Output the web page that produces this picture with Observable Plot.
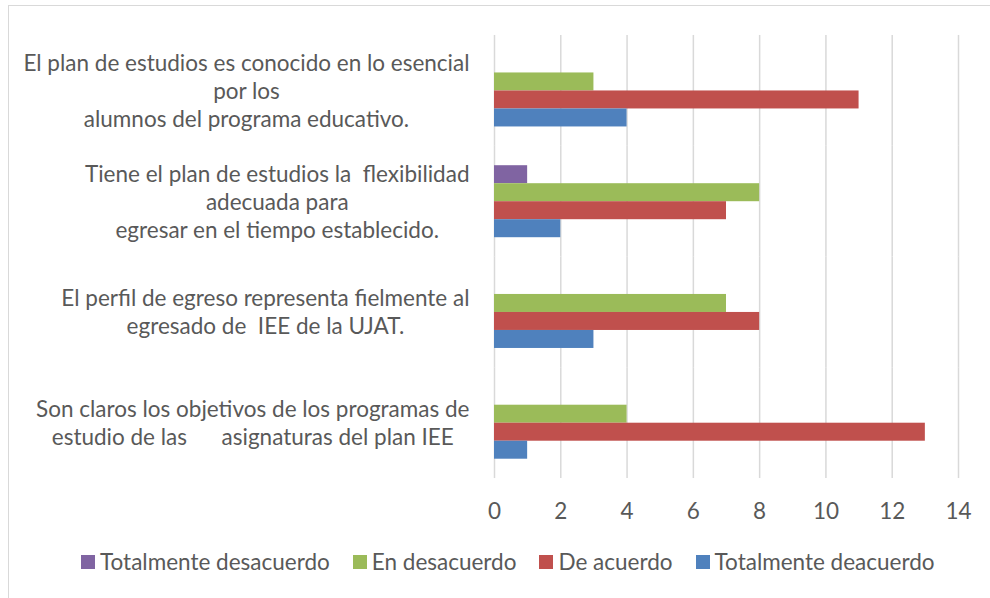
<!DOCTYPE html>
<html>
<head>
<meta charset="utf-8">
<script src="https://cdn.jsdelivr.net/npm/d3@7"></script>
<script src="https://cdn.jsdelivr.net/npm/@observablehq/plot@0.6"></script>
<style>
  html, body { margin: 0; padding: 0; background: #fff; }
  body { width: 990px; height: 598px; overflow: hidden; position: relative; font-family: Lato, "Open Sans", sans-serif; }
  #frame { position: absolute; left: 8px; top: 5px; width: 1100px; height: 700px; border: 1.5px solid #d9d9d9; box-sizing: border-box; }
  #chart { position: absolute; left: 0; top: 0; }
  #legend { position: absolute; left: 81px; top: 548px; display: flex; align-items: center; color: #595959; font-size: 22.5px; white-space: nowrap; }
  #legend .item { display: flex; align-items: center; margin-right: 23px; }
  #legend .sw { width: 14px; height: 14px; display: inline-block; margin-right: 5px; }
  #chart svg g[aria-label="text"] text { white-space: pre; }
</style>
</head>
<body>
<div id="frame"></div>
<div id="chart"></div>
<div id="legend"></div>
<script>
const categories = [
  "El plan de estudios es conocido en lo esencial\npor los\nalumnos del programa educativo.",
  "Tiene el plan de estudios la  flexibilidad\nadecuada para\negresar en el tiempo establecido.",
  "El perfil de egreso representa fielmente al\negresado de  IEE de la UJAT.",
  "Son claros los objetivos de los programas de\nestudio de las      asignaturas del plan IEE"
];
const series = ["Totalmente desacuerdo", "En desacuerdo", "De acuerdo", "Totalmente deacuerdo"];
const colors = ["#8064A2", "#9BBB59", "#C0504D", "#4F81BD"];
const totalmenteDesacuerdo = [0, 1, 0, 0];
const enDesacuerdo = [3, 8, 7, 4];
const deAcuerdo = [11, 7, 8, 13];
const totalmenteDeacuerdo = [4, 2, 3, 1];
const xTicks = [0, 2, 4, 6, 8, 10, 12, 14];

const seriesValues = [totalmenteDesacuerdo, enDesacuerdo, deAcuerdo, totalmenteDeacuerdo];
const rows = [];
categories.forEach((c, ci) => {
  series.forEach((s, si) => {
    rows.push({cat: c, series: s, value: seriesValues[si][ci]});
  });
});

const plot = Plot.plot({
  width: 990,
  height: 530,
  marginLeft: 494,
  marginRight: 32,
  marginTop: 35,
  marginBottom: 52,
  style: {fontFamily: "Lato, 'Open Sans', sans-serif", fontSize: "22.5px", color: "#595959", background: "transparent", overflow: "visible"},
  x: {domain: [0, 14], axis: null},
  y: {domain: series, axis: null, padding: 0},
  fy: {domain: categories, paddingInner: 1 / 3, paddingOuter: 1 / 6, axis: null, round: false},
  color: {domain: series, range: colors},
  marks: [
    Plot.gridX(xTicks, {stroke: "#d9d9d9", strokeOpacity: 1, strokeWidth: 1.5, insetTop: -18.5, insetBottom: -18.5}),
    Plot.barX(rows, {fy: "cat", y: "series", x: "value", fill: "series"}),
    Plot.axisX(xTicks, {anchor: "bottom", label: null, tickSize: 0, tickPadding: 43, fontSize: 22.5, fill: "#595959"}),
    Plot.text(categories, {fy: d => d, text: d => d, frameAnchor: "left", textAnchor: "end", dx: -25, dy: -1, lineHeight: 1.244, fontSize: 22.5, fill: "#595959"})
  ]
});
document.getElementById("chart").appendChild(plot);

// center each label's lines within its own block (Excel-style)
plot.querySelectorAll('g[aria-label="text"] text').forEach(t => {
  const w = t.getBBox().width;
  t.setAttribute("text-anchor", "middle");
  t.querySelectorAll("tspan").forEach(s => s.setAttribute("x", -w / 2));
});

const legend = d3.select("#legend");
series.forEach((s, i) => {
  const item = legend.append("div").attr("class", "item");
  item.append("span").attr("class", "sw").style("background", colors[i]);
  item.append("span").text(s);
});
</script>
</body>
</html>
